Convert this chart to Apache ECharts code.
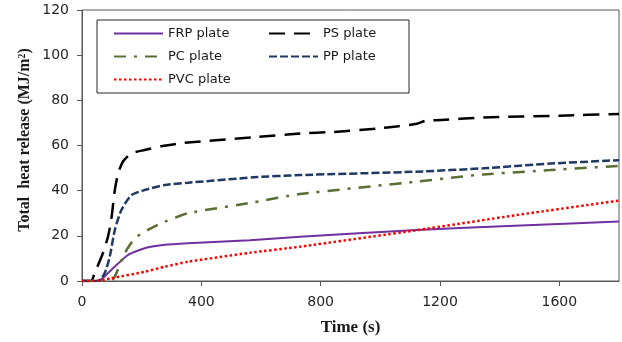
<!DOCTYPE html>
<html>
<head>
<meta charset="utf-8">
<script src="https://cdn.jsdelivr.net/npm/echarts@6/dist/echarts.min.js"></script>
<style>
html,body{margin:0;padding:0;background:#fff;}
#chart{width:622px;height:342px;}
</style>
</head>
<body>
<div id="chart"></div>
<script>
// Data
const xTicks = [0, 400, 800, 1200, 1600];
const yTicks = [0, 20, 40, 60, 80, 100, 120];

const frpTime  = [0, 54, 98, 154, 210, 272, 355, 563, 731, 1122, 1450, 1800];
const frpValue = [0, 0, 4.9, 11.5, 14.5, 15.9, 16.7, 18.0, 19.6, 22.6, 24.5, 26.3];

const psTime  = [0, 31, 42, 70, 87, 98, 110, 121, 137, 165, 210, 266, 344, 574, 731, 842, 988, 1060, 1122, 1150, 1189, 1345, 1600, 1800];
const psValue = [0, 0, 3.4, 12.3, 19.6, 27, 40.3, 47.6, 52.8, 56.5, 58, 59.7, 61.2, 63.6, 65.3, 66, 67.5, 68.5, 69.6, 70.9, 71.2, 72.4, 73.2, 74];

const pcTime  = [0, 98, 115, 143, 177, 221, 277, 355, 574, 731, 1122, 1345, 1569, 1800];
const pcValue = [0, 0, 3.4, 12.3, 18.9, 22.6, 26.2, 30, 34.8, 38.5, 44, 47.2, 49.1, 51];

const ppTime  = [0, 54, 76, 93, 110, 132, 165, 210, 277, 355, 574, 731, 1122, 1345, 1569, 1800];
const ppValue = [0, 0, 3.4, 10.8, 22.6, 31.4, 38, 40.3, 42.5, 43.5, 45.9, 46.9, 48.4, 49.9, 52, 53.5];

const pvcTime  = [0, 40, 98, 210, 277, 355, 563, 731, 1122, 1457, 1800];
const pvcValue = [0, 0, 1.2, 4.1, 6.3, 8.5, 12.5, 15.2, 22.5, 29.2, 35.6];

function pairs(t, v) { return t.map((x, i) => [x, v[i]]); }

const chart = echarts.init(document.getElementById('chart'), null, {renderer: 'canvas'});

const tickFont = {fontFamily: 'DejaVu Sans', fontSize: 14, color: '#262626'};
const legendText = {fontFamily: 'DejaVu Sans', fontSize: 13, color: '#1a1a1a'};

function line(name, data, color, width, dash) {
  return {
    name: name, type: 'line', data: data, symbol: 'none', smooth: 0.2,
    lineStyle: {color: color, width: width, type: dash},
    itemStyle: {color: color},
    z: 3
  };
}

const legendCommon = {orient: 'vertical', top: 27, itemWidth: 49, itemHeight: 14, itemGap: 10,
  textStyle: legendText, z: 20, padding: 0, itemStyle: {opacity: 0, borderWidth: 0}};

chart.setOption({
  animation: false,
  backgroundColor: '#fff',
  grid: {left: 82, right: 3, top: 10, bottom: 61, show: true, borderColor: '#595959', borderWidth: 1},
  xAxis: {
    type: 'value', min: 0, max: 1800, interval: 400,
    axisLine: {lineStyle: {color: '#595959', width: 1}},
    axisTick: {show: true, length: 5, lineStyle: {color: '#595959'}},
    axisLabel: Object.assign({margin: 14, showMaxLabel: false,
      formatter: v => xTicks.indexOf(v) >= 0 ? String(v) : ''}, tickFont),
    splitLine: {show: false},
    name: 'Time (s)', nameLocation: 'middle', nameGap: 38,
    nameTextStyle: {fontFamily: 'Liberation Serif', fontWeight: 'bold', fontSize: 17, color: '#1a1a1a'}
  },
  yAxis: {
    type: 'value', min: 0, max: 120, interval: 20,
    axisLine: {show: true, lineStyle: {color: '#595959', width: 1}},
    axisTick: {show: true, length: 5, lineStyle: {color: '#595959'}},
    axisLabel: Object.assign({margin: 13,
      formatter: v => yTicks.indexOf(v) >= 0 ? String(v) : ''}, tickFont),
    splitLine: {show: false}
  },
  graphic: [
    {type: 'rect', shape: {x: 97, y: 20, width: 312, height: 73},
     style: {fill: '#fff', stroke: '#262626', lineWidth: 1}, z: 10},
    {type: 'text', x: 25, y: 140, rotation: Math.PI / 2,
     style: {text: 'Total  heat release (MJ/m²)', fontFamily: 'Liberation Serif', fontWeight: 'bold',
       fontSize: 16, fill: '#1a1a1a', align: 'center', verticalAlign: 'middle'}}
  ],
  legend: [
    Object.assign({left: 113, data: ['FRP plate', 'PC plate', 'PVC plate']}, legendCommon),
    Object.assign({left: 268, data: ['PS plate', 'PP plate']}, legendCommon)
  ],
  series: [
    line('FRP plate', pairs(frpTime, frpValue), '#7030A0', 2, 'solid'),
    line('PS plate', pairs(psTime, psValue), '#000000', 2.5, [16, 9]),
    line('PC plate', pairs(pcTime, pcValue), '#5A6E34', 2.5, [12, 8, 3, 8]),
    line('PP plate', pairs(ppTime, ppValue), '#1F3864', 2.5, [8, 3]),
    line('PVC plate', pairs(pvcTime, pvcValue), '#FF0000', 2.5, [2.5, 2.5])
  ]
});
</script>
</body>
</html>
